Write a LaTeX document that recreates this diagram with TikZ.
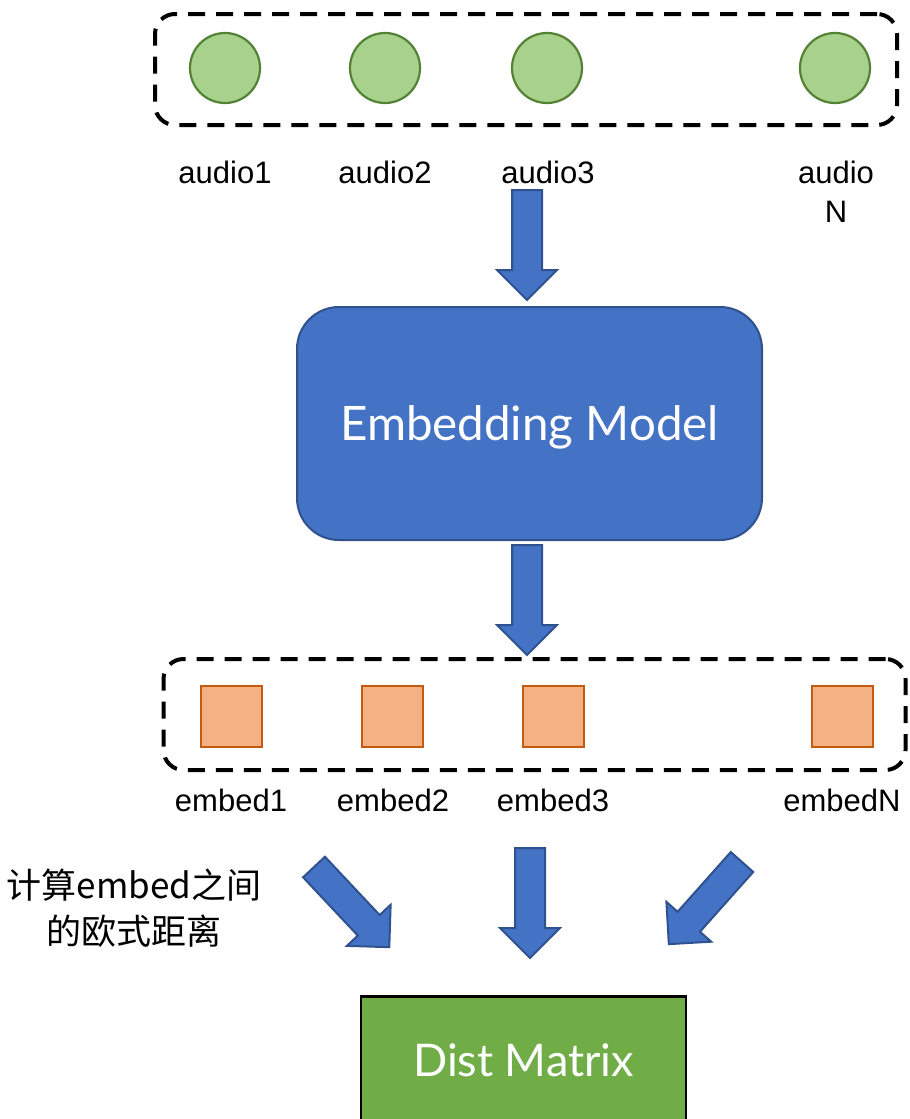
\documentclass[tikz,border=0pt]{standalone}
\usepackage{fontspec}
\setmainfont{Liberation Sans}
\newfontfamily\lightfont{Lato}
\newfontfamily\cjkfont{Noto Sans CJK SC}
\definecolor{audiofill}{HTML}{A9D18E}
\definecolor{audioline}{HTML}{548235}
\definecolor{embfill}{HTML}{F4B183}
\definecolor{embline}{HTML}{C55A11}
\definecolor{modelfill}{HTML}{4472C4}
\definecolor{modelline}{HTML}{2F528F}
\definecolor{distfill}{HTML}{70AD47}
\begin{document}
\begin{tikzpicture}[x=1pt,y=-1pt,
  groupbox/.style={draw=black, line width=4pt, dash pattern=on 17pt off 11pt,
    rounded corners=20pt, minimum width=742pt, minimum height=111pt, inner sep=0pt},
  audio/.style={circle, draw=audioline, fill=audiofill, line width=2.2pt,
    minimum size=70pt, inner sep=0pt},
  embvec/.style={rectangle, draw=embline, fill=embfill, line width=2pt,
    minimum size=61pt, inner sep=0pt},
  lbl/.style={anchor=base, inner sep=0pt, font=\fontsize{31}{39}\selectfont},
  bigtext/.style={text=white, text depth=0pt},
  blockarrow/.pic={
    \draw[fill=modelfill, draw=modelline, line width=2pt, line join=miter]
      (0,-15) -- (80,-15) -- (80,-30) -- (110,0) -- (80,30) -- (80,15) -- (0,15) -- cycle;
  }]
\useasboundingbox (0,0) rectangle (910,1119);

% input audio clips
\node[groupbox] (audiogroup) at (526,69.5) {};
\node[audio] (a1) at (225,68) {};
\node[audio] (a2) at (385,68) {};
\node[audio] (a3) at (547,68) {};
\node[audio] (aN) at (835,68) {};
\node[lbl] (la1) at (225,183) {audio1};
\node[lbl] (la2) at (385,183) {audio2};
\node[lbl] (la3) at (548,183) {audio3};
\node[lbl, align=center] (laN) at (836,222) {audio\\N};

% embedding model
\node[rectangle, rounded corners=42pt, draw=modelline, fill=modelfill, line width=2pt,
  minimum width=465pt, minimum height=233pt, bigtext,
  font=\lightfont\fontsize{47.5}{57}\selectfont] (model) at (529.5,423.5) {Embedding Model};

% embeddings
\node[groupbox] (embgroup) at (534.5,714.5) {};
\node[embvec] (e1) at (231.5,716) {};
\node[embvec] (e2) at (392.5,716) {};
\node[embvec] (e3) at (553.5,716) {};
\node[embvec] (eN) at (842.5,716) {};
\node[lbl] (le1) at (231,811) {embed1};
\node[lbl] (le2) at (393,811) {embed2};
\node[lbl] (le3) at (553,811) {embed3};
\node[lbl] (leN) at (842,811) {embedN};

% distance matrix
\node[rectangle, draw=black, fill=distfill, line width=2.5pt,
  minimum width=325pt, minimum height=127pt, bigtext,
  font=\lightfont\fontsize{45}{54}\selectfont] (dist) at (523.5,1060) {Dist Matrix};

\node[align=center, inner sep=0pt, font=\cjkfont\fontsize{35}{46}\selectfont] (note) at (134,908)
  {计算embed之间\\的欧式距离};

% block arrows between the stages
\coordinate (t1) at (527,190);
\coordinate (t2) at (527,545);
\coordinate (t3) at (314,867);
\coordinate (t4) at (530,848);
\coordinate (t5) at (742,862);
\pic[rotate=-90] at (t1) {blockarrow};
\pic[rotate=-90] at (t2) {blockarrow};
\pic[rotate=-46.8] at (t3) {blockarrow};
\pic[rotate=-90] at (t4) {blockarrow};
\pic[rotate=-131.7] at (t5) {blockarrow};
\end{tikzpicture}
\end{document}
